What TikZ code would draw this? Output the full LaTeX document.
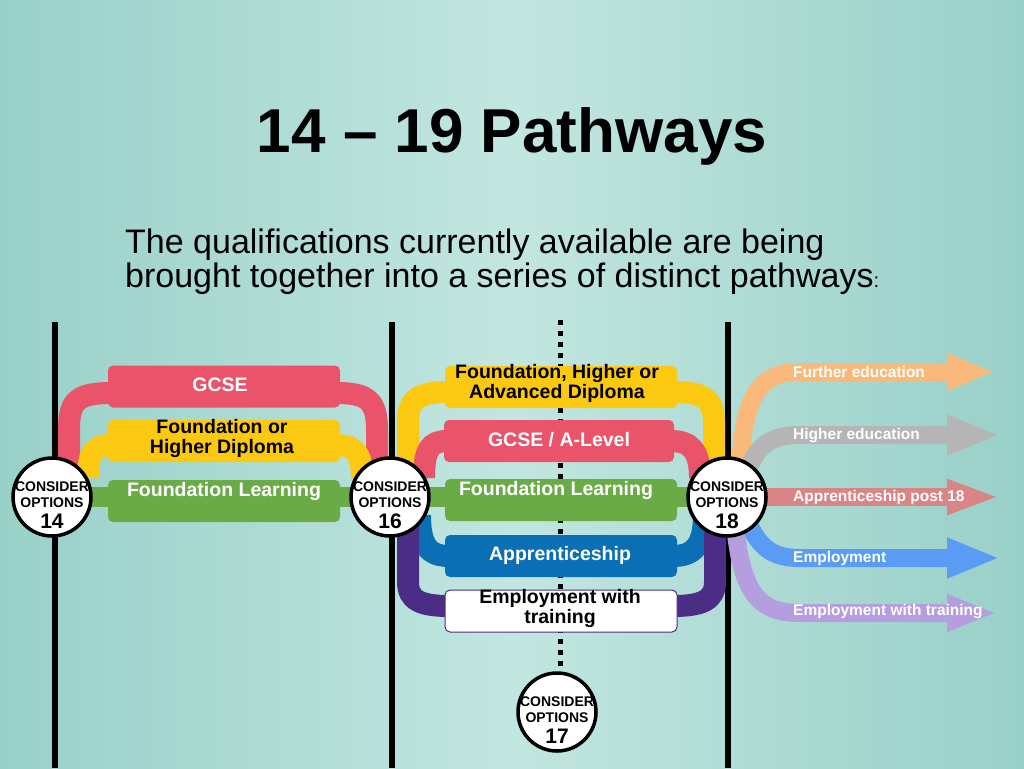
\documentclass[tikz,border=0pt]{standalone}
\usepackage{fontspec}
\setmainfont{Liberation Sans}
\usetikzlibrary{arrows.meta}
\definecolor{bgE}{HTML}{98D0C8}
\definecolor{bgC}{HTML}{C2E6E0}
\definecolor{pRed}{HTML}{E9546B}
\definecolor{pYel}{HTML}{FBC812}
\definecolor{pGrn}{HTML}{6AAB46}
\definecolor{pBlu}{HTML}{0B6FB5}
\definecolor{pPur}{HTML}{4B2D86}
\definecolor{aOra}{HTML}{F9B97A}
\definecolor{aGry}{HTML}{B5B5B5}
\definecolor{aSal}{HTML}{DA8585}
\definecolor{aBlu}{HTML}{5A9CF5}
\definecolor{aLav}{HTML}{B49EE0}
\newcommand\myfs[2]{\fontsize{#1}{#2}\selectfont}
\begin{document}
\begin{tikzpicture}[x=1pt,y=-1pt,
  vline/.style={line width=6pt,black},
  band/.style={line width=22pt},
  bar/.style={rounded corners=5pt,minimum width=232pt,minimum height=42pt,inner sep=0pt},
  bartext/.style={font=\bfseries\myfs{19.5}{20},align=center,inner sep=0pt},
  circ/.style={circle,draw=black,line width=3.5pt,fill=white,minimum size=78pt,inner sep=0pt},
  ctext/.style={font=\bfseries\myfs{14}{16.5},align=center,inner sep=0pt},
  arr/.style={line width=18pt},
  arrlabel/.style={font=\bfseries\myfs{15.5}{15},text=white,anchor=west,inner sep=0pt}
]
\useasboundingbox (0,0) rectangle (1024,768);
\shade[left color=bgE,right color=bgE,middle color=bgC] (0,0) rectangle (1024,768);

% title
\node[font=\bfseries\myfs{62}{70}] (title) at (512,136) {14 \textendash{} 19 Pathways};
\node[font=\myfs{34}{34},anchor=base west,inner sep=0pt] (sub1) at (125,253) {The qualifications currently available are being};
\node[font=\myfs{34}{34},anchor=base west,inner sep=0pt] (sub2) at (125,287) {brought together into a series of distinct pathways{\myfs{20}{20}:}};

% vertical lines
\coordinate (l1t) at (55,322); \coordinate (l1b) at (55,768);
\coordinate (l2t) at (392,322); \coordinate (l2b) at (392,768);
\coordinate (l3t) at (728,322); \coordinate (l3b) at (728,768);
\coordinate (dt) at (560,320); \coordinate (db) at (560,672);
\draw[vline] (l1t) -- (l1b);
\draw[vline] (l2t) -- (l2b);
\draw[vline] (l3t) -- (l3b);
\draw[line width=5pt,black,dash pattern=on 5pt off 6pt] (dt) -- (db);

% circles (positions)
\coordinate (p14) at (52,497);
\coordinate (p16) at (390,497);
\coordinate (p18) at (727,497);

% left section bands
\draw[band,pRed] (69,470) -- (69,428) .. controls (69,399) and (80,393) .. (112,393);
\draw[band,pRed] (336,393) .. controls (367,393) and (377,400) .. (377,430) -- (377,470);
\draw[band,pYel] (88,478) .. controls (88,452) and (94,445) .. (112,445);
\draw[band,pYel] (336,445) .. controls (354,445) and (362,452) .. (362,478);
\draw[line width=20pt,pGrn] (p14) -- (p16);

% middle section bands
\draw[band,pYel] (408,480) -- (408,422) .. controls (408,398) and (420,392) .. (449,392);
\draw[band,pYel] (673,392) .. controls (702,392) and (714,398) .. (714,422) -- (714,480);
\draw[band,pRed] (424,478) .. controls (424,450) and (430,441) .. (447,441);
\draw[band,pRed] (671,441) .. controls (690,441) and (700,450) .. (700,478);
\draw[line width=20pt,pGrn] (p16) -- (p18);
\draw[band,pBlu] (420,515) .. controls (420,545) and (428,556) .. (449,556);
\draw[band,pBlu] (673,556) .. controls (694,556) and (704,545) .. (704,515);
\draw[band,pPur] (408,515) -- (408,582) .. controls (408,600) and (420,606) .. (449,606);
\draw[band,pPur] (673,606) .. controls (702,606) and (715,600) .. (715,582) -- (715,515);

% right arrows
\draw[arr,aOra,-{Triangle[length=48pt,width=34pt]}] (740,475) .. controls (742,395) and (760,372) .. (800,372) -- (995,372);
\draw[arr,aGry,-{Triangle[length=53pt,width=37pt]}] (745,480) .. controls (755,445) and (770,435) .. (800,435) -- (1000,435);
\draw[arr,aSal,-{Triangle[length=53pt,width=32pt]}] (p18) -- (1000,497);
\draw[arr,aBlu,-{Triangle[length=53pt,width=37pt]}] (745,515) .. controls (758,548) and (772,558) .. (800,558) -- (1000,558);
\draw[arr,aLav,-{Triangle[length=50pt,width=34pt]}] (735,525) .. controls (742,595) and (760,613) .. (800,613) -- (997,613);

\node[arrlabel] (fe) at (793,372) {Further education};
\node[arrlabel] (he) at (793,436) {Higher education};
\node[arrlabel] (ap18) at (793,497) {Apprenticeship post 18};
\node[arrlabel] (emp) at (793,558) {Employment};
\node[arrlabel] (ewt) at (793,612) {Employment with training};

% left bars
\node[bar,fill=pRed] (gcse) at (224,386.5) {};
\node[bartext,text=white] (gcset) at (220,385) {GCSE};
\node[bar,fill=pYel] (fhd) at (224,441) {};
\node[bartext,text=black] (fhdt) at (222,438) {Foundation or\\Higher Diploma};
\node[bar,fill=pGrn] (fl1) at (224,501) {};
\node[bartext,text=white] (fl1t) at (224,491) {Foundation Learning};

% middle bars
\node[bar,fill=pYel] (fha) at (561,387) {};
\node[bartext,text=black] (fhat) at (557,383) {Foundation, Higher or\\Advanced Diploma};
\node[bar,fill=pRed,minimum width=230pt] (gal) at (559,441) {};
\node[bartext,text=white] (galt) at (559,440) {GCSE / A-Level};
\node[bar,fill=pGrn] (fl2) at (561,500) {};
\node[bartext,text=white] (fl2t) at (556,490) {Foundation Learning};
\node[bar,fill=pBlu] (app) at (561,556) {};
\node[bartext,text=white] (appt) at (560,555) {Apprenticeship};
\node[bar,fill=white,draw=pPur,line width=1pt] (ewtb) at (561,611) {};
\node[bartext,text=black] (ewtbt) at (560,608) {Employment with\\training};

% circles
\node[circ] (c14) at (p14) {};
\node[circ] (c16) at (p16) {};
\node[circ] (c18) at (p18) {};
\node[circ] (c17) at (557,712) {};
\node[ctext] (t14) at (52,505) {CONSIDER\\OPTIONS\\[4pt]{\myfs{21}{21}14}};
\node[ctext] (t16) at (390,505) {CONSIDER\\OPTIONS\\[4pt]{\myfs{21}{21}16}};
\node[ctext] (t18) at (727,505) {CONSIDER\\OPTIONS\\[4pt]{\myfs{21}{21}18}};
\node[ctext] (t17) at (557,720) {CONSIDER\\OPTIONS\\[4pt]{\myfs{21}{21}17}};
\end{tikzpicture}
\end{document}
